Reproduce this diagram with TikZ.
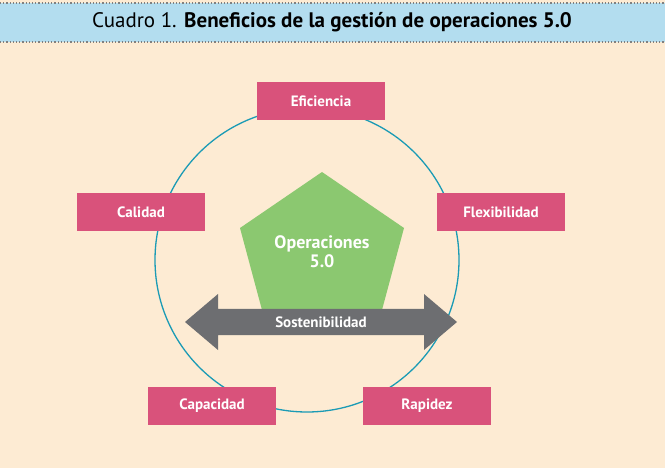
\documentclass[tikz,border=0pt]{standalone}
\usepackage{fontspec}
\setmainfont{PT Sans}
\definecolor{beige}{HTML}{FDEBD3}
\definecolor{headblue}{HTML}{B3DDEF}
\definecolor{ringblue}{HTML}{1B9BB5}
\definecolor{boxpink}{HTML}{D9527B}
\definecolor{pentgreen}{HTML}{8BC870}
\definecolor{arrowgray}{HTML}{6D6E71}
\tikzset{
    benefit/.style={fill=boxpink, text=white, font=\bfseries\fontsize{15}{17}\selectfont,
        minimum width=128pt, minimum height=38pt, inner sep=0pt},
    rule/.style={gray, dotted, line width=1.2pt}
}
\begin{document}
\begin{tikzpicture}[x=1pt, y=-1pt]
    \fill[beige] (0,0) rectangle (665,468);
    \useasboundingbox (0,0) rectangle (665,468);
    % header
    \fill[headblue] (0,3) rectangle (665,42);
    \draw[rule] (0,3) -- (665,3);
    \draw[rule] (0,42) -- (665,42);
    \node (title) at (332,22) {\fontsize{21}{24}\selectfont Cuadro 1. \textbf{Beneficios de la gestión de operaciones 5.0}};
    % ring
    \draw[ringblue, line width=1.3pt] (307,260) circle (152pt);
    % pentagon
    \fill[pentgreen] (322,172) -- (404,228) -- (382,310) -- (262,310) -- (240,228) -- cycle;
    \node[text=white, font=\bfseries\fontsize{18}{19}\selectfont, align=center] (core) at (322,252) {Operaciones\\5.0};
    % double arrow
    \fill[arrowgray] (185,322) -- (218,294) -- (218,309) -- (424,309) -- (424,294)
        -- (457,322) -- (424,350) -- (424,335) -- (218,335) -- (218,350) -- cycle;
    \node[text=white, font=\bfseries\fontsize{15}{17}\selectfont] (sost) at (321,322) {Sostenibilidad};
    % benefits
    \foreach \name/\label/\x/\y in {
        efi/Eficiencia/321/101,
        cal/Calidad/141/212,
        fle/Flexibilidad/501/212,
        cap/Capacidad/212/406,
        rap/Rapidez/427/406
    } {
        \node[benefit] (\name) at (\x,\y) {\label};
    }
\end{tikzpicture}
\end{document}
